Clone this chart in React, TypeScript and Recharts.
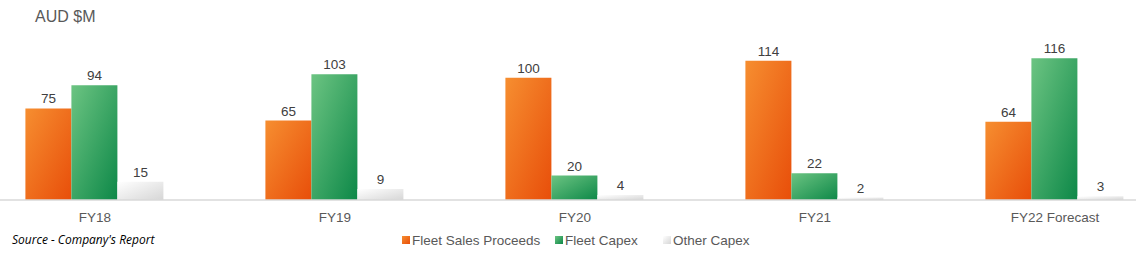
import React from 'react';
import { BarChart, Bar, XAxis, YAxis, LabelList } from 'recharts';

const categories = ['FY18', 'FY19', 'FY20', 'FY21', 'FY22 Forecast'];
const fleetSalesProceeds = [75, 65, 100, 114, 64];
const fleetCapex = [94, 103, 20, 22, 116];
const otherCapex = [15, 9, 4, 2, 3];

const seriesNames = ['Fleet Sales Proceeds', 'Fleet Capex', 'Other Capex'];
const seriesColors = [
  'linear-gradient(135deg, #F68E30, #E84E0A)',
  'linear-gradient(135deg, #6CC482, #0D8848)',
  'linear-gradient(135deg, #FFFFFF, #D6D6D6)'
];
const legendX = [402, 555, 663];

const FONT = '"Liberation Sans", Arial, sans-serif';

const data = categories.map((name, i) => ({
  name,
  sales: fleetSalesProceeds[i],
  capex: fleetCapex[i],
  other: otherCapex[i]
}));

const App = () => {
  return (
    <div
      style={{
        position: 'absolute',
        left: 0,
        top: 0,
        width: 1136,
        height: 254,
        overflow: 'hidden',
        background: '#fff',
        fontFamily: FONT
      }}
    >
      <div style={{ position: 'absolute', left: 35, top: 8, fontSize: 16, color: '#595959' }}>
        AUD $M
      </div>

      <div style={{ position: 'absolute', left: -25.5, top: 0 }}>
        <BarChart
          width={1200}
          height={254}
          data={data}
          margin={{ top: 29, right: 0, left: 0, bottom: 24 }}
          barCategoryGap="21%"
          barGap={0}
        >
          <defs>
            <linearGradient id="gOrange" x1="0" y1="0" x2="1" y2="1">
              <stop offset="0%" stopColor="#F68E30" />
              <stop offset="100%" stopColor="#E84E0A" />
            </linearGradient>
            <linearGradient id="gGreen" x1="0" y1="0" x2="1" y2="1">
              <stop offset="0%" stopColor="#6CC482" />
              <stop offset="100%" stopColor="#0D8848" />
            </linearGradient>
            <linearGradient id="gGrey" x1="0" y1="0" x2="1" y2="1">
              <stop offset="0%" stopColor="#FFFFFF" />
              <stop offset="100%" stopColor="#D6D6D6" />
            </linearGradient>
          </defs>
          <XAxis
            dataKey="name"
            height={30}
            tickLine={false}
            tickMargin={6}
            axisLine={{ stroke: '#D9D9D9', strokeWidth: 1.5 }}
            tick={{ fill: '#595959', fontSize: 13.5, fontFamily: FONT }}
            interval={0}
          />
          <YAxis hide domain={[0, 140]} />
          <Bar dataKey="sales" fill="url(#gOrange)" isAnimationActive={false}>
            <LabelList dataKey="sales" position="top" offset={5} fill="#404040" fontSize={13.5} fontFamily={FONT} />
          </Bar>
          <Bar dataKey="capex" fill="url(#gGreen)" isAnimationActive={false}>
            <LabelList dataKey="capex" position="top" offset={5} fill="#404040" fontSize={13.5} fontFamily={FONT} />
          </Bar>
          <Bar dataKey="other" fill="url(#gGrey)" isAnimationActive={false}>
            <LabelList dataKey="other" position="top" offset={5} fill="#404040" fontSize={13.5} fontFamily={FONT} />
          </Bar>
        </BarChart>
      </div>

      <div
        style={{
          position: 'absolute',
          left: 12,
          top: 231,
          fontSize: 12,
          fontStyle: 'italic',
          color: '#000',
          fontFamily: '"Open Sans", sans-serif'
        }}
      >
        Source - Company's Report
      </div>

      {/* legend */}
      {seriesNames.map((n, i) => (
        <div
          key={n}
          style={{
            position: 'absolute',
            left: legendX[i],
            top: 231,
            height: 18,
            display: 'flex',
            alignItems: 'center',
            fontSize: 13.5,
            color: '#595959',
            whiteSpace: 'nowrap'
          }}
        >
          <span
            style={{
              display: 'inline-block',
              width: 8,
              height: 8,
              marginRight: 2,
              background: seriesColors[i]
            }}
          />
          {n}
        </div>
      ))}
    </div>
  );
};

export default App;
